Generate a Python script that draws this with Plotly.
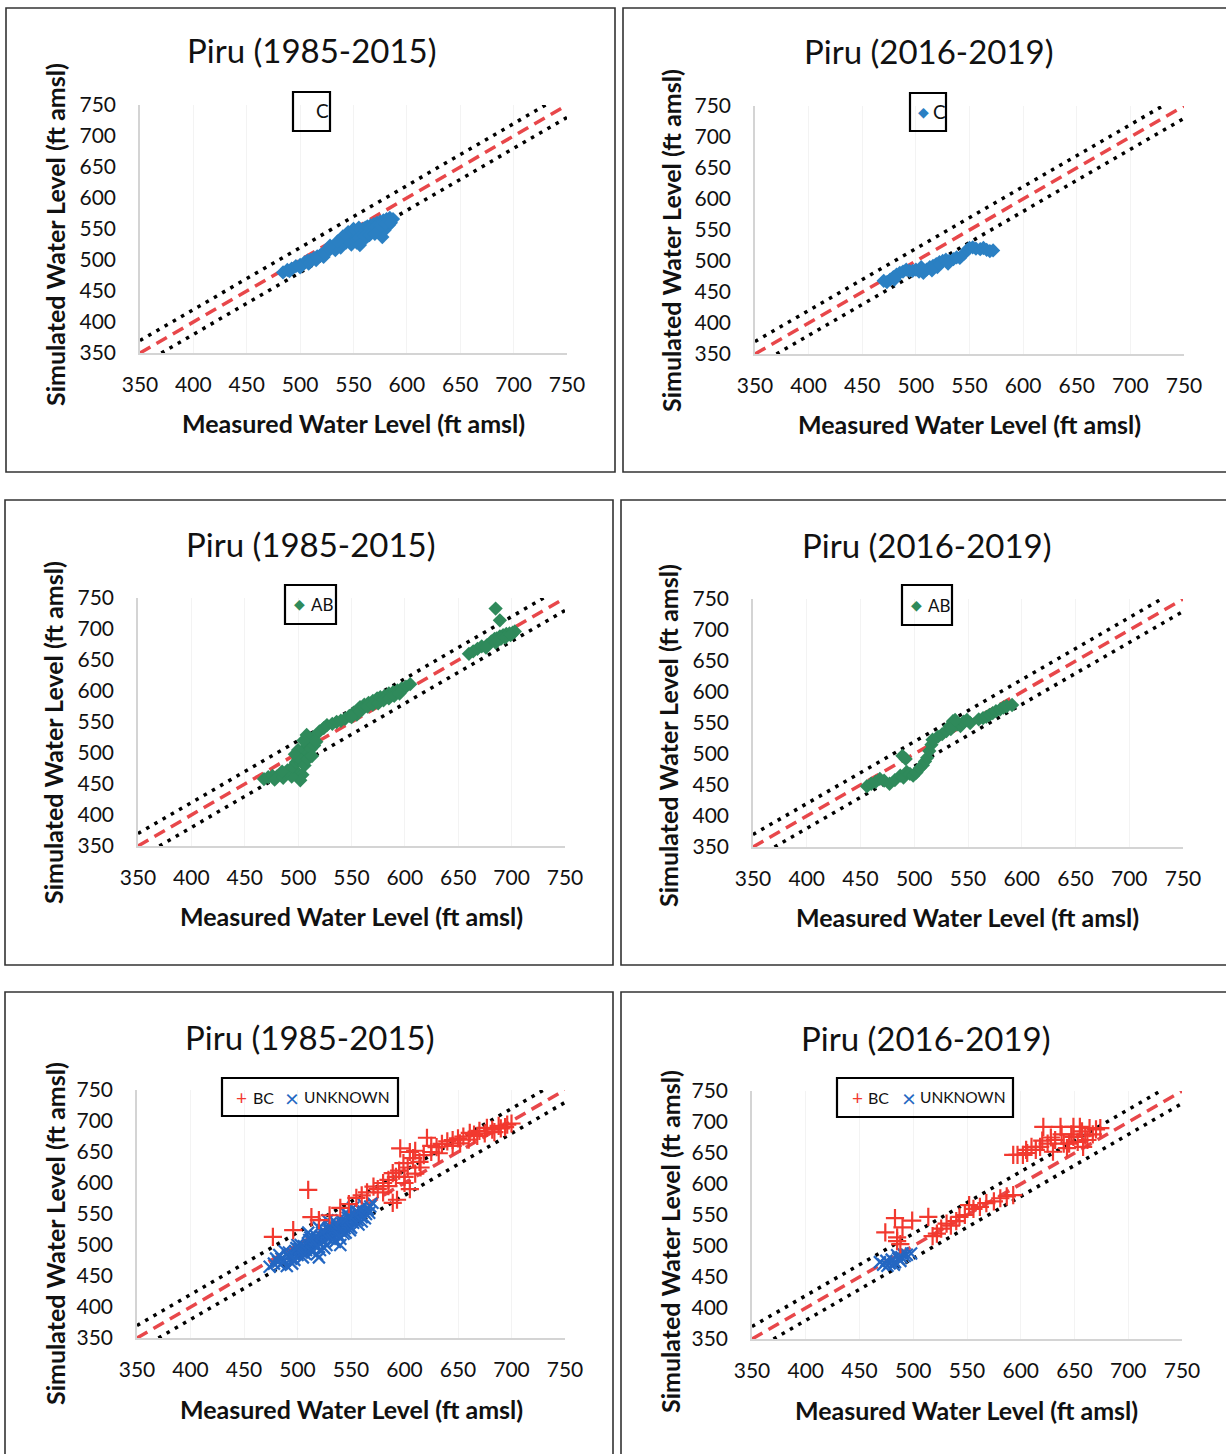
import plotly.graph_objects as go

W, H = 1226, 1454

# ---------------- data ----------------
tick_vals = [350, 400, 450, 500, 550, 600, 650, 700, 750]
axis_range = [350, 750]

one_to_one_x = [350, 750]
one_to_one_y = [350, 750]
upper_x = [350, 730]
upper_y = [370, 750]
lower_x = [370, 750]
lower_y = [350, 730]

titles = ["Piru (1985-2015)", "Piru (2016-2019)",
          "Piru (1985-2015)", "Piru (2016-2019)",
          "Piru (1985-2015)", "Piru (2016-2019)"]
x_title = "Measured Water Level (ft amsl)"
y_title = "Simulated Water Level (ft amsl)"

# Panel 1: C, 1985-2015
c85 = [(484,480),(488,484),(492,486),(496,490),(500,492),(504,496),(507,499),(510,500),(513,503),
       (516,506),(519,508),(522,512),(525,514),(528,517),(531,520),(533,522),(536,524),(538,528),
       (540,530),(542,532),(545,534),(547,538),(549,540),(551,542),(553,544),(555,546),(557,548),
       (559,550),(561,552),(563,554),(566,556),(569,558),(572,560),(575,562),(578,564),(581,566),
       (584,568),(587,566),(583,556),(579,548),(577,537),(572,548),(567,545),(563,538),(558,530),
       (553,528),(548,525),(543,528),(538,520),(533,516),(528,523),(522,505),(515,500),(508,494),
       (500,488),(490,482),(545,545),(550,550),(555,552),(560,545),(565,550),(570,552),(575,555),
       (580,558),(585,560),(540,538),(535,530),(555,535),(560,538),(565,540),(556,524),(570,542)]
c85_x = [p[0] for p in c85]
c85_y = [p[1] for p in c85]

# Panel 2: C, 2016-2019
c16 = [(473,466),(476,470),(479,474),(482,478),(485,481),(488,483),(491,486),(494,484),(497,484),
       (500,486),(503,483),(507,481),(510,486),(513,490),(516,492),(519,495),(522,498),(525,500),
       (528,502),(531,500),(535,503),(538,506),(541,505),(545,512),(548,518),(550,521),(553,522),
       (556,520),(560,519),(563,521),(566,518),(569,516),(572,517),(480,470),(470,468),(505,490),
       (520,490),(530,496),(515,485)]
c16_x = [p[0] for p in c16]
c16_y = [p[1] for p in c16]

# Panel 3: AB, 1985-2015
ab85 = [(468,458),(472,461),(476,463),(480,462),(484,465),(488,466),(492,468),(496,469),(500,467),
        (504,465),(502,456),(478,457),(486,460),(494,462),(490,472),(485,470),
        (495,478),(498,485),(500,490),(502,495),(504,500),(506,505),(508,510),(510,515),(512,520),
        (514,525),(508,529),(505,520),(500,505),(497,498),(503,488),(510,500),(512,507),(515,512),
        (517,518),(506,480),(509,490),(513,495),
        (520,535),(524,540),(527,545),(532,547),(536,550),(540,552),(544,555),(548,560),(552,565),
        (556,570),(558,574),(562,578),(566,581),(570,584),(574,588),(577,590),(581,592),(585,596),
        (589,598),(593,601),(597,604),(601,607),(605,611),(560,570),(565,575),(570,578),(575,580),
        (580,585),(585,588),(590,592),(595,596),(555,562),(550,558),
        (660,660),(664,664),(668,668),(672,672),(677,674),(681,680),(684,684),(686,685),(689,688),
        (692,690),(695,692),(698,693),(701,694),(703,696),(690,684),(685,678),(694,686),(699,690),
        (685,733),(689,714),(676,670)]
ab85_x = [p[0] for p in ab85]
ab85_y = [p[1] for p in ab85]

# Panel 4: AB, 2016-2019
ab16 = [(456,448),(460,452),(464,455),(468,460),(472,457),(477,452),(482,458),(487,465),(490,462),
        (493,471),(496,468),(499,465),(502,470),(505,477),(508,482),(510,488),(512,494),(514,505),
        (516,515),(489,497),(492,492),(517,523),(522,528),(526,532),(530,537),(533,545),(536,553),
        (540,548),(543,545),(546,552),(549,555),(534,540),(538,555),(552,550),(560,556),(564,558),
        (567,560),(570,563),(573,566),(576,569),(580,572),(583,575),(586,577),(591,579)]
ab16_x = [p[0] for p in ab16]
ab16_y = [p[1] for p in ab16]

# Panel 5: BC and UNKNOWN, 1985-2015
bc85 = [(477,513),(496,524),(510,589),(513,545),(520,540),(530,548),(540,560),(548,566),(555,576),
        (560,580),(565,585),(571,594),(575,590),(580,600),(585,605),(589,616),(592,610),(595,620),
        (599,632),(603,625),(596,656),(605,650),(610,652),(614,634),(618,645),(621,673),(625,660),
        (630,658),(635,663),(640,667),(645,669),(650,672),(655,675),(661,681),(665,678),(670,684),
        (677,689),(682,686),(688,692),(696,694),(700,696),(593,573),(589,568),(600,600),(605,590),
        (610,615),(615,625),(625,650),(645,660),(660,670),(675,680),(690,688),(585,595),(580,585),
        (600,610),(608,640),(632,648),(652,664),(668,676),(684,682),(694,690)]
bc85_x = [p[0] for p in bc85]
bc85_y = [p[1] for p in bc85]

unk85 = [(474,465),(478,470),(482,473),(485,478),(488,475),(491,482),(494,478),(496,486),(498,490),
         (500,484),(502,494),(504,488),(506,498),(508,492),(510,502),(512,495),(514,506),(516,499),
         (518,510),(520,503),(522,514),(524,507),(526,518),(528,511),(530,522),(532,515),(534,526),
         (536,519),(538,530),(540,523),(542,534),(544,527),(546,538),(548,531),(550,542),(552,536),
         (554,546),(556,540),(558,550),(560,545),(562,554),(564,550),(566,558),(568,562),(525,495),
         (535,505),(515,490),(505,480),(495,470),(545,520),(488,490),(500,500),(512,512),(524,524),
         (536,536),(548,548),(555,555),(530,530),(518,485),(540,510),(550,528),(560,538),(483,484),
         (510,520),(520,528),(490,466),(520,480),(540,500),(528,540),(545,552),(552,560),(562,565),
         (480,478),(484,468),(492,488),(497,476),(503,500),(507,486),(511,508),(513,490),(517,515),
         (521,492),(523,520),(527,500),(529,527),(533,508),(537,532),(539,515),(541,540),(543,518),
         (547,544),(549,524),(553,550),(557,533),(559,556),(563,543),(567,552),(570,568),(486,472),
         (499,495),(531,535),(519,498)]
unk85_x = [p[0] for p in unk85]
unk85_y = [p[1] for p in unk85]

# Panel 6: BC and UNKNOWN, 2016-2019
bc16 = [(474,522),(483,545),(499,541),(514,547),(485,514),(485,508),(488,503),(490,530),(518,516),
        (522,520),(526,528),(531,536),(535,533),(540,540),(543,547),(548,550),(552,566),(556,560),
        (562,563),(568,569),(575,572),(581,577),(587,580),(593,582),(593,647),(597,647),(602,647),
        (606,650),(610,660),(614,655),(618,660),(621,692),(625,665),(630,652),(632,671),(637,692),
        (640,665),(643,658),(647,680),(649,692),(649,676),(653,668),(657,685),(662,671),(664,690),
        (667,680),(670,688),(674,690),(655,692),(628,675),(638,680),(660,678),(605,655),(620,670),
        (645,665),(658,660)]
bc16_x = [p[0] for p in bc16]
bc16_y = [p[1] for p in bc16]

unk16 = [(469,474),(472,470),(475,476),(478,472),(480,478),(483,474),(486,480),(489,482),(492,484),
         (494,486),(476,468),(482,470),(488,476),(490,488),(485,485),(498,488)]
unk16_x = [p[0] for p in unk16]
unk16_y = [p[1] for p in unk16]

# ---------------- styling ----------------
COL_C = "#2b80c3"
COL_AB = "#2f8a5b"
COL_BC = "#f2392f"
COL_UNK = "#2467c2"
FONT = "Lato"

# plot area pixel boxes: (left, right, top, bottom)
areas = [(140, 567, 105, 353), (755, 1184, 106, 354),
         (138, 565, 598, 846), (753, 1183, 599, 847),
         (137, 565, 1090, 1338), (752, 1182, 1091, 1339)]
frames = [(6, 615, 8, 472), (623, 1232, 8, 472),
          (5, 613, 500, 965), (621, 1232, 500, 965),
          (5, 613, 992, 1462), (621, 1232, 992, 1462)]
title_pos = [(312, 50), (929, 51), (311, 544), (927, 545), (310, 1037), (926, 1038)]
xtitle_pos = [(353, 423), (969, 424), (351, 916), (967, 917), (351, 1409), (966, 1410)]
ytitle_pos = [(55, 235), (671, 241), (53, 733), (668, 736), (55, 1234), (670, 1242)]


def px(x):
    return x / W


def py(y):
    return 1 - y / H


fig = go.Figure()
layout = dict(width=W, height=H, margin=dict(l=0, r=0, t=0, b=0, pad=0, autoexpand=False),
              autosize=False, template="none",
              paper_bgcolor="white", plot_bgcolor="white", showlegend=False,
              font=dict(family=FONT, color="#111"))
shapes = []
annotations = []

series = [
    [(c85_x, c85_y, "diamond", COL_C, 11)],
    [(c16_x, c16_y, "diamond", COL_C, 11)],
    [(ab85_x, ab85_y, "diamond", COL_AB, 11)],
    [(ab16_x, ab16_y, "diamond", COL_AB, 11)],
    [(unk85_x, unk85_y, "x-thin", COL_UNK, 12), (bc85_x, bc85_y, "cross-thin", COL_BC, 13)],
    [(unk16_x, unk16_y, "x-thin", COL_UNK, 12), (bc16_x, bc16_y, "cross-thin", COL_BC, 13)],
]

for i in range(6):
    n = "" if i == 0 else str(i + 1)
    xa, ya = "x" + n, "y" + n
    l, r, t, b = areas[i]
    layout["xaxis" + n] = dict(domain=[px(l), px(r)], range=axis_range, anchor=ya,
                               automargin=False, tickvals=tick_vals, ticks="outside", ticklen=12,
                               tickcolor="rgba(0,0,0,0)", showline=True, linecolor="#d4d4d4",
                               linewidth=1.5, showgrid=True, gridcolor="#f3f3f3",
                               zeroline=False, tickfont=dict(size=21, color="#111", family=FONT))
    layout["yaxis" + n] = dict(domain=[py(b), py(t)], range=axis_range, anchor=xa,
                               automargin=False, tickvals=tick_vals, ticks="outside", ticklen=18,
                               tickcolor="rgba(0,0,0,0)", showline=True, linecolor="#d4d4d4",
                               linewidth=1.5, showgrid=False, zeroline=False,
                               tickfont=dict(size=21, color="#111", family=FONT))
    # reference lines
    fig.add_trace(go.Scatter(x=upper_x, y=upper_y, mode="lines", xaxis=xa, yaxis=ya,
                             line=dict(color="black", width=3.5, dash="3.5px,6px"), hoverinfo="skip"))
    fig.add_trace(go.Scatter(x=lower_x, y=lower_y, mode="lines", xaxis=xa, yaxis=ya,
                             line=dict(color="black", width=3.5, dash="3.5px,6px"), hoverinfo="skip"))
    fig.add_trace(go.Scatter(x=one_to_one_x, y=one_to_one_y, mode="lines", xaxis=xa, yaxis=ya,
                             line=dict(color="#e8474a", width=3.5, dash="12px,7px"), hoverinfo="skip"))
    for sx, sy, sym, col, size in series[i]:
        if sym == "diamond":
            mk = dict(symbol=sym, color=col, size=size, line=dict(width=0))
        else:
            mk = dict(symbol=sym, color=col, size=size, line=dict(width=2.2, color=col))
        fig.add_trace(go.Scatter(x=sx, y=sy, mode="markers", xaxis=xa, yaxis=ya,
                                 marker=mk, cliponaxis=False))
    # frame
    fl, fr, ft, fb = frames[i]
    shapes.append(dict(type="rect", xref="paper", yref="paper", x0=px(fl), x1=px(fr),
                       y0=py(fb), y1=py(ft), line=dict(color="#333", width=1.6)))
    # texts
    tx, ty = title_pos[i]
    annotations.append(dict(text=titles[i], x=px(tx), y=py(ty), xref="paper", yref="paper",
                            showarrow=False, xanchor="center", yanchor="middle",
                            font=dict(size=33, color="#111", family=FONT)))
    tx, ty = xtitle_pos[i]
    annotations.append(dict(text="<b>" + x_title + "</b>", x=px(tx), y=py(ty), xref="paper",
                            yref="paper", showarrow=False, xanchor="center", yanchor="middle",
                            font=dict(size=25, color="#111", family=FONT)))
    tx, ty = ytitle_pos[i]
    annotations.append(dict(text="<b>" + y_title + "</b>", x=px(tx), y=py(ty), xref="paper",
                            yref="paper", showarrow=False, xanchor="center", yanchor="middle",
                            textangle=-90, font=dict(size=25, color="#111", family=FONT)))


# ---------------- legends (drawn boxes) ----------------
def legend_box(x0, x1, y0, y1):
    shapes.append(dict(type="rect", xref="paper", yref="paper", x0=px(x0), x1=px(x1),
                       y0=py(y1), y1=py(y0), line=dict(color="black", width=2.2)))


def legend_text(txt, x, y, color="#111", size=17, family=FONT):
    annotations.append(dict(text=txt, x=px(x), y=py(y), xref="paper", yref="paper",
                            showarrow=False, xanchor="left", yanchor="middle",
                            font=dict(size=size, color=color, family=family)))


# panel 1
legend_box(293, 330, 92, 131)
legend_text("C", 314, 111, size=19)
# panel 2
legend_box(910, 946, 93, 131)
legend_text("◆", 916, 112, COL_C, 14, "DejaVu Sans")
legend_text("C", 931, 112, size=19)
# panel 3
legend_box(285, 336, 585, 624)
legend_text("◆", 292, 604, COL_AB, 14, "DejaVu Sans")
legend_text("AB", 309, 604)
# panel 4
legend_box(902, 952, 585, 625)
legend_text("◆", 909, 605, COL_AB, 14, "DejaVu Sans")
legend_text("AB", 926, 605)
# panel 5
legend_box(222, 398, 1078, 1116)
legend_text("+", 234, 1097, COL_BC, 19)
legend_text("BC", 251, 1097, size=16)
legend_text("×", 283, 1097, COL_UNK, 24)
legend_text("UNKNOWN", 302, 1097, size=15.5)
# panel 6
legend_box(837, 1013, 1078, 1117)
legend_text("+", 850, 1097, COL_BC, 19)
legend_text("BC", 866, 1097, size=16)
legend_text("×", 900, 1097, COL_UNK, 24)
legend_text("UNKNOWN", 918, 1097, size=15.5)

layout["shapes"] = shapes
layout["annotations"] = annotations
fig.update_layout(**layout)
fig.write_html("out.html")
